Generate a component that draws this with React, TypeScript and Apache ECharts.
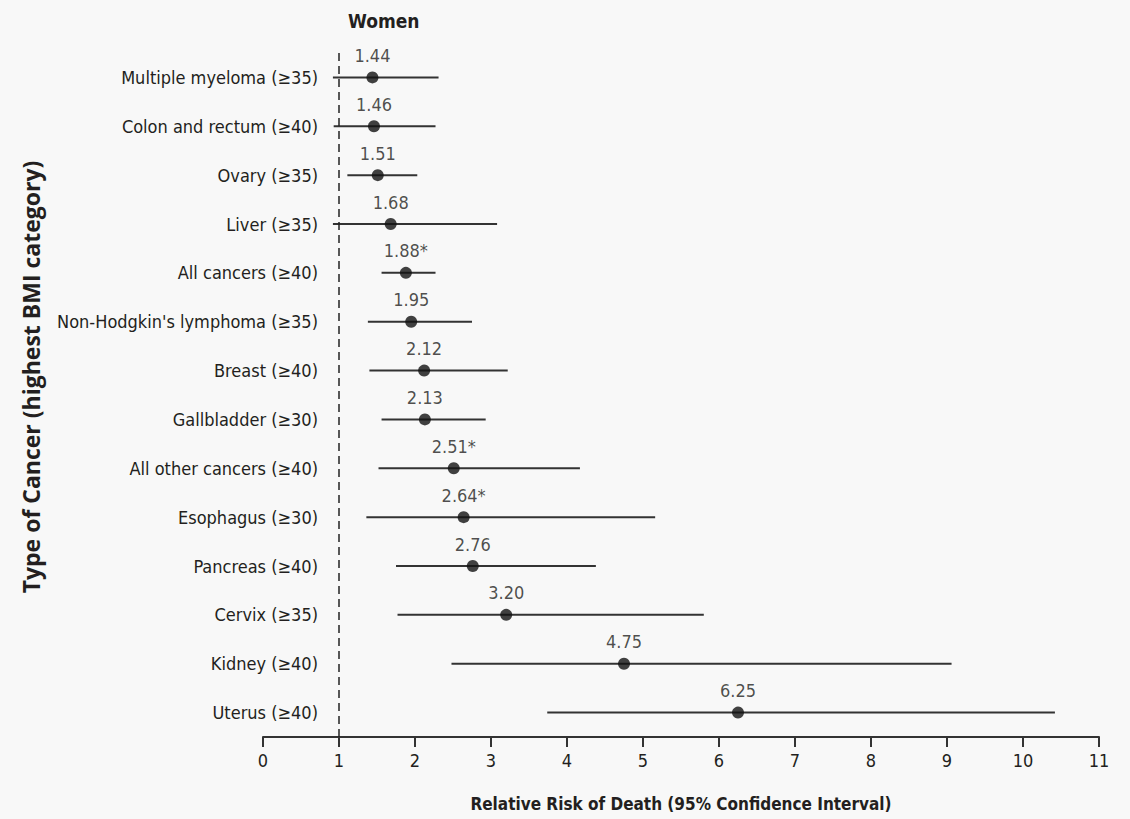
import React, { useEffect, useRef } from "react";
import * as echarts from "echarts";

const categories = [
  "Multiple myeloma (≥35)",
  "Colon and rectum (≥40)",
  "Ovary (≥35)",
  "Liver (≥35)",
  "All cancers (≥40)",
  "Non-Hodgkin's lymphoma (≥35)",
  "Breast (≥40)",
  "Gallbladder (≥30)",
  "All other cancers (≥40)",
  "Esophagus (≥30)",
  "Pancreas (≥40)",
  "Cervix (≥35)",
  "Kidney (≥40)",
  "Uterus (≥40)",
];
const relativeRisk = [1.44, 1.46, 1.51, 1.68, 1.88, 1.95, 2.12, 2.13, 2.51, 2.64, 2.76, 3.2, 4.75, 6.25];
const ciLower = [0.92, 0.93, 1.11, 0.92, 1.56, 1.38, 1.4, 1.56, 1.52, 1.36, 1.75, 1.77, 2.48, 3.74];
const ciUpper = [2.31, 2.27, 2.03, 3.08, 2.27, 2.75, 3.22, 2.93, 4.17, 5.16, 4.38, 5.8, 9.06, 10.42];
const starred = [false, false, false, false, true, false, false, false, true, true, false, false, false, false];
const xMin = 0;
const xMax = 11;
const xInterval = 1;
const referenceValue = 1;

const NARROW = "'Liberation Sans Narrow', 'DejaVu Sans Condensed', sans-serif";
const TEXT = "#231f20";

export default function App() {
  const ref = useRef<HTMLDivElement>(null);
  useEffect(() => {
    document.body.style.margin = "0";
    const chart = echarts.init(ref.current!, null, { renderer: "svg" });
    chart.setOption({
      animation: false,
      backgroundColor: "#f8f8f8",
      title: {
        text: "Women",
        left: 343,
        top: 6,
        textStyle: { fontFamily: NARROW, fontSize: 19, fontWeight: "bold", color: TEXT },
      },
      grid: { left: 263, right: 31, top: 53, bottom: 82 },
      xAxis: {
        type: "value",
        min: xMin,
        max: xMax,
        interval: xInterval,
        name: "Relative Risk of Death (95% Confidence Interval)",
        nameLocation: "middle",
        nameGap: 58,
        nameTextStyle: { fontFamily: NARROW, fontSize: 17, fontWeight: "bold", color: TEXT },
        axisLine: { show: true, lineStyle: { color: "#333", width: 2 } },
        axisTick: { show: true, length: 10, lineStyle: { color: "#333", width: 2 } },
        axisLabel: { fontFamily: NARROW, fontSize: 18, color: TEXT, margin: 14 },
        splitLine: { show: false },
      },
      yAxis: {
        type: "category",
        data: categories,
        inverse: true,
        offset: -55,
        axisLine: { show: false },
        axisTick: { show: false },
        axisLabel: { fontFamily: NARROW, fontSize: 18, color: TEXT, margin: 0 },
        splitLine: { show: false },
      },
      graphic: [
        {
          type: "text",
          x: 31,
          y: 377,
          rotation: Math.PI / 2,
          style: {
            text: "Type of Cancer (highest BMI category)",
            font: "bold 23px 'Open Sans', sans-serif",
            fill: TEXT,
            align: "center",
            verticalAlign: "middle",
          },
        },
      ],
      series: [
        {
          type: "custom",
          data: categories.map((c, i) => [i, ciLower[i], ciUpper[i]]),
          encode: { y: 0, x: [1, 2] },
          renderItem: (params: any, api: any) => {
            const cat = api.value(0);
            const p1 = api.coord([api.value(1), cat]);
            const p2 = api.coord([api.value(2), cat]);
            return {
              type: "line",
              shape: { x1: p1[0], y1: p1[1], x2: p2[0], y2: p2[1] },
              style: { stroke: "#333", lineWidth: 2 },
            };
          },
          silent: true,
        },
        {
          type: "scatter",
          data: relativeRisk.map((v, i) => [v, i]),
          symbol: "circle",
          symbolSize: 12,
          itemStyle: { color: "#111" },
          label: {
            show: true,
            position: "top",
            distance: 7,
            fontFamily: NARROW,
            fontSize: 18,
            color: TEXT,
            formatter: (p: any) => relativeRisk[p.dataIndex].toFixed(2) + (starred[p.dataIndex] ? "*" : ""),
          },
          markLine: {
            silent: true,
            symbol: "none",
            label: { show: false },
            lineStyle: { color: "#222", width: 1.5, type: [8, 5] },
            data: [{ xAxis: referenceValue }],
          },
          z: 3,
        },
      ],
    });
    return () => chart.dispose();
  }, []);
  return <div ref={ref} style={{ width: 1130, height: 819 }} />;
}
